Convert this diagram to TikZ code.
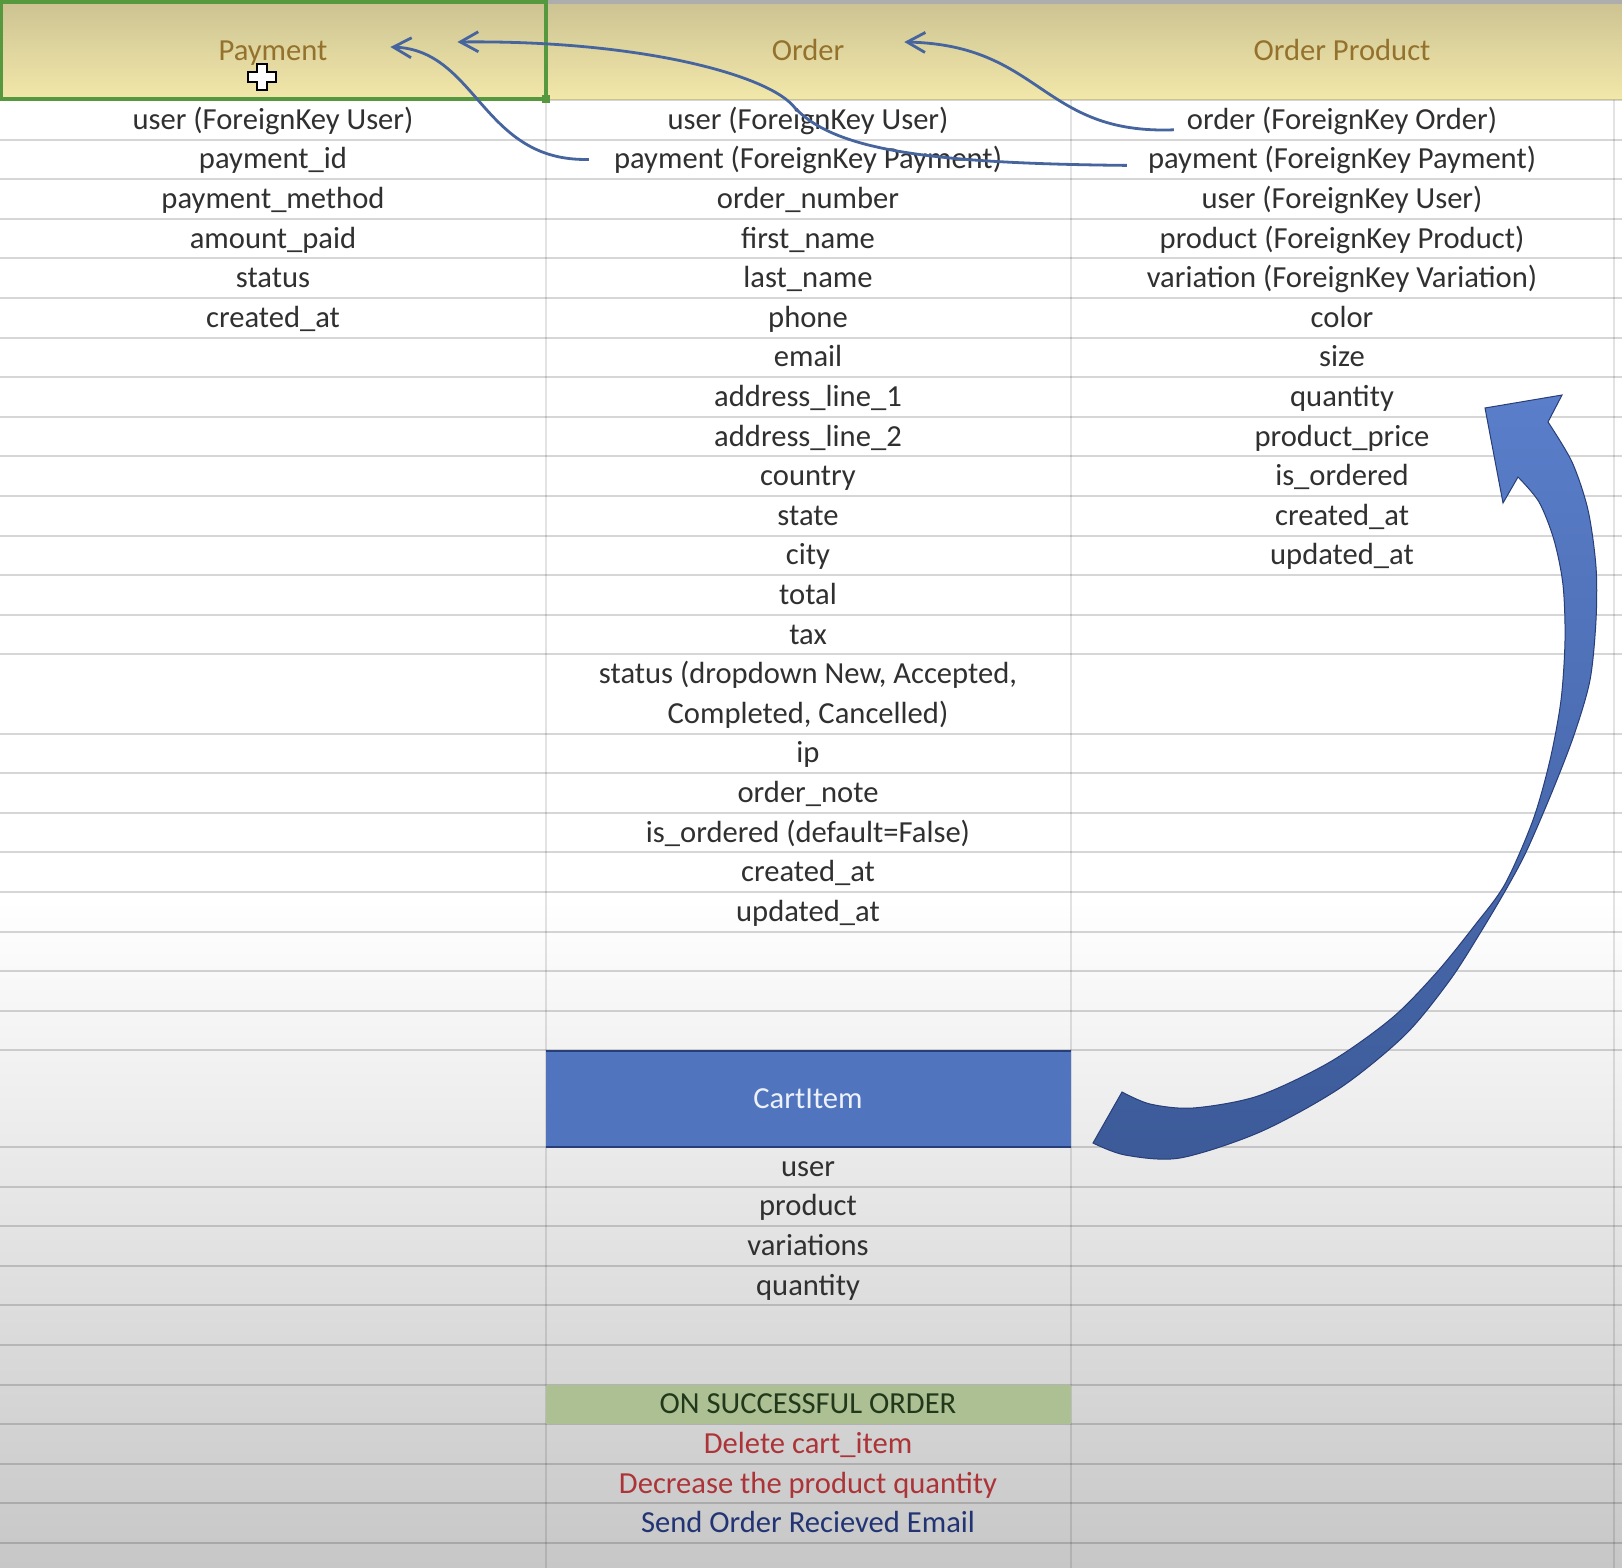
\documentclass[tikz,border=0pt]{standalone}
\usepackage{fontspec}
\setmainfont{Carlito}
\usetikzlibrary{arrows.meta}

\definecolor{celltext}{RGB}{48,48,48}
\definecolor{headtext}{RGB}{148,114,46}
\definecolor{headtop}{RGB}{204,194,146}
\definecolor{headbot}{RGB}{242,232,170}
\definecolor{selgreen}{RGB}{86,152,62}
\definecolor{linkblue}{RGB}{70,100,158}
\definecolor{cartblue}{RGB}{80,116,190}
\definecolor{cartline}{RGB}{40,62,120}
\definecolor{bigtop}{RGB}{90,126,202}
\definecolor{bigbot}{RGB}{60,90,152}
\definecolor{okgreen}{RGB}{172,192,148}
\definecolor{okgreentext}{RGB}{34,56,26}
\definecolor{todored}{RGB}{172,52,56}
\definecolor{mailblue}{RGB}{34,52,116}

\tikzset{
  cell/.style={font=\fontsize{15.3}{18}\selectfont, text=celltext, text height=1.14em, text depth=.2em},
  head/.style={cell, text=headtext},
  gridrule/.style={draw=black, draw opacity=.16, line width=1pt},
  link/.style={draw=linkblue, line width=1.4pt, -{Straight Barb[length=9pt,width=10pt]}},
}

\begin{document}
\begin{tikzpicture}[x=0.5pt,y=-0.5pt]
  \useasboundingbox (0,0) rectangle (1622,1568);
  % sheet
  \fill[white] (0,0) rectangle (1622,1568);
  \shade[top color=white, bottom color=black!22] (0,900) rectangle (1622,1568);
  \shade[top color=headtop, bottom color=headbot] (0,0) rectangle (1622,100);
  \fill[black!32] (0,0) rectangle (1622,4);
  % grid
  \foreach \k in {0,...,24}{
    \ifnum\k=15\else
      \draw[gridrule] (0,{100+39.6*\k}) -- (1622,{100+39.6*\k});
    \fi
  }
  \foreach \k in {0,...,10}
    \draw[gridrule] (0,{1147+39.6*\k}) -- (1622,{1147+39.6*\k});
  \foreach \x in {546,1071,1614}
    \draw[gridrule, draw opacity=.11] (\x,100) -- (\x,1568);

  % cells with fill
  \fill[cartblue] (546,1051) rectangle (1071,1147);
  \draw[cartline, line width=1pt] (546,1051) -- (1071,1051) (546,1147) -- (1071,1147);
  \fill[okgreen] (546,1385) rectangle (1071,1424);

  % selected cell
  \draw[selgreen, line width=2pt] (1,2) rectangle (546,99);
  \fill[selgreen] (542,95) rectangle (550,103);

  % headers
  \node[head] (pay-head) at (273,51) {Payment};
  \node[head] (ord-head) at (808,51) {Order};
  \node[head] (op-head) at (1342,51) {Order Product};

  % Payment
  \foreach \txt [count=\i] in {{user (ForeignKey User)}, payment\_id, payment\_method,
      amount\_paid, status, created\_at}
    \node[cell] (pay-\i) at (273,{80.2+39.6*\i}) {\txt};

  % Order
  \foreach \txt [count=\i] in {{user (ForeignKey User)}, {payment (ForeignKey Payment)},
      order\_number, first\_name, last\_name, phone, email, address\_line\_1,
      address\_line\_2, country, state, city, total, tax,
      {status (dropdown New, Accepted,}, {Completed, Cancelled)}, ip, order\_note,
      {is\_ordered (default=False)}, created\_at, updated\_at}
    \node[cell] (ord-\i) at (808,{80.2+39.6*\i}) {\txt};

  % Order Product
  \foreach \txt [count=\i] in {{order (ForeignKey Order)}, {payment (ForeignKey Payment)},
      {user (ForeignKey User)}, {product (ForeignKey Product)},
      {variation (ForeignKey Variation)}, color, size, quantity, product\_price,
      is\_ordered, created\_at, updated\_at}
    \node[cell] (op-\i) at (1342,{80.2+39.6*\i}) {\txt};

  % CartItem
  \node[cell, text=white!90!cartblue] (cart-head) at (808,1099) {CartItem};
  \foreach \txt [count=\i] in {user, product, variations, quantity}
    \node[cell] (cart-\i) at (808,{1127.2+39.6*\i}) {\txt};

  \node[cell, text=okgreentext] (done-head) at (808,1404.4) {ON SUCCESSFUL ORDER};
  \node[cell, text=todored] (done-1) at (808,1444) {Delete cart\_item};
  \node[cell, text=todored] (done-2) at (808,1483.6) {Decrease the product quantity};
  \node[cell, text=mailblue] (done-3) at (808,1523.2) {Send Order Recieved Email};

  % foreign keys
  \draw[link] ([xshift=-9pt]ord-2.west) .. controls +(-107,3) and +(87,3)
    .. ([xshift=28pt,yshift=2pt]pay-head.east);
  \draw[link] ([xshift=-7pt,yshift=-3pt]op-2.west) .. controls +(-200,-2) and (835,150)
    .. (795,108) .. controls (770,75) and (640,40) .. ([xshift=61.5pt,yshift=4.5pt]pay-head.east);
  \draw[link] ([xshift=-3pt,yshift=-5pt]op-1.west) .. controls +(-133,5) and +(138,3)
    .. ([xshift=26.5pt,yshift=4.5pt]ord-head.east);

  % big curved arrow
  \shade[top color=bigtop, bottom color=bigbot, draw=cartline, line width=0.5pt]
    (1485,408) -- (1562,395) --
    plot[smooth] coordinates {(1548,422) (1572,462) (1588,510) (1596,567) (1596,620)
      (1590,680) (1574,735) (1552,792) (1527,850) (1508,886) (1482,930) (1450,980)
      (1405,1035) (1340,1088) (1260,1132) (1180,1158) (1125,1155) (1093,1143)}
    -- plot[smooth] coordinates {(1122,1092) (1150,1104) (1193,1108) (1258,1096)
      (1330,1062) (1392,1018) (1437,972) (1475,925) (1505,884) (1533,820) (1550,760)
      (1561,700) (1565,640) (1563,585) (1554,540) (1539,502) (1518,477)}
    -- (1503,503) -- cycle;

  % mouse pointer
  \draw[fill=white, line width=1pt] (257,64) -- (267,64) -- (267,72) -- (276,72)
    -- (276,82) -- (267,82) -- (267,90) -- (257,90) -- (257,82) -- (248,82)
    -- (248,72) -- (257,72) -- cycle;
\end{tikzpicture}
\end{document}
